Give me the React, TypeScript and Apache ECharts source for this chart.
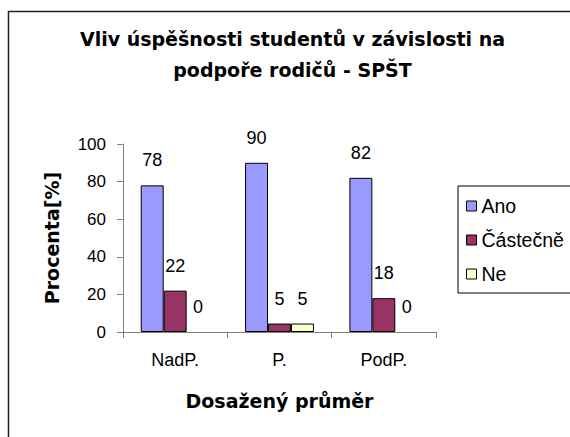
import React, { useEffect, useRef } from "react";
import * as echarts from "echarts";

const categories = ["NadP.", "P.", "PodP."];
const seriesNames = ["Ano", "Částečně", "Ne"];
const anoValues = [78, 90, 82];
const castecneValues = [22, 4.5, 18];
const neValues = [0, 4.5, 0];
const seriesColors = ["#9999FF", "#993366", "#FFFFCC"];
const titleLines = ["Vliv úspěšnosti studentů v závislosti na", "podpoře rodičů - SPŠT"];
const yAxisTitle = "Procenta[%]";
const xAxisTitle = "Dosažený průměr";

const SANS = "'Liberation Sans', Arial, sans-serif";
const BOLD = "'DejaVu Sans', sans-serif";

export default function App() {
  const ref = useRef<HTMLDivElement>(null);
  useEffect(() => {
    if (!ref.current) return;
    const chart = echarts.init(ref.current, null, { renderer: "svg" });
    const values = [anoValues, castecneValues, neValues];
    const series = seriesNames.map((name, i) => ({
      name,
      type: "bar",
      data: values[i].map((v) =>
        v === 0 ? { value: v, itemStyle: { borderWidth: 0 } } : v
      ),
      barGap: "0%",
      barCategoryGap: "34%",
      itemStyle: { color: seriesColors[i], borderColor: "#000", borderWidth: 1 },
      label: {
        show: true,
        position: "top",
        distance: 16,
        color: "#000",
        fontSize: 18,
        fontFamily: SANS,
        formatter: (p: any) => String(Math.round(p.value)),
      },
    }));
    chart.setOption({
      animation: false,
      backgroundColor: "#fff",
      graphic: [
        {
          type: "rect",
          shape: { x: 8.5, y: 11.5, width: 700, height: 600 },
          style: { fill: "none", stroke: "#222", lineWidth: 1.5 },
          silent: true,
        },
        {
          type: "text",
          x: 292.5,
          y: 39,
          style: {
            text: titleLines[0],
            textAlign: "center",
            textVerticalAlign: "middle",
            fontSize: 19,
            fontWeight: "bold",
            fontFamily: BOLD,
            fill: "#000",
          },
        },
        {
          type: "text",
          x: 292.5,
          y: 69.5,
          style: {
            text: titleLines[1],
            textAlign: "center",
            textVerticalAlign: "middle",
            fontSize: 19,
            fontWeight: "bold",
            fontFamily: BOLD,
            fill: "#000",
          },
        },
      ],
      legend: {
        orient: "vertical",
        left: 458,
        top: 186,
        itemWidth: 10,
        itemHeight: 10,
        itemGap: 14,
        padding: [10, 11, 9, 8],
        borderColor: "#000",
        borderWidth: 1,
        icon: "rect",
        itemStyle: { borderColor: "#000", borderWidth: 1 },
        textStyle: { fontSize: 19.5, fontFamily: SANS, color: "#000" },
        data: seriesNames,
      },
      grid: { left: 123, top: 144, width: 313, height: 188 },
      xAxis: {
        type: "category",
        data: categories,
        name: xAxisTitle,
        nameLocation: "middle",
        nameGap: 59,
        nameTextStyle: { fontSize: 19, fontWeight: "bold", fontFamily: BOLD, color: "#000" },
        axisLine: { lineStyle: { color: "#808080", width: 1 } },
        axisTick: { show: true, length: 6, lineStyle: { color: "#808080" } },
        axisLabel: { margin: 19, fontSize: 18, fontFamily: SANS, color: "#000" },
      },
      yAxis: {
        type: "value",
        min: 0,
        max: 100,
        interval: 20,
        name: yAxisTitle,
        nameLocation: "middle",
        nameGap: 62,
        nameTextStyle: { fontSize: 19, fontWeight: "bold", fontFamily: BOLD, color: "#000" },
        axisLine: { show: true, lineStyle: { color: "#808080", width: 1 } },
        axisTick: { show: true, length: 6, lineStyle: { color: "#808080" } },
        splitLine: { show: false },
        axisLabel: { margin: 17, fontSize: 17, fontFamily: SANS, color: "#000" },
      },
      series,
    });
    return () => chart.dispose();
  }, []);
  return (
    <div
      ref={ref}
      style={{ position: "absolute", left: 0, top: 0, width: 570, height: 437, background: "#fff" }}
    />
  );
}
